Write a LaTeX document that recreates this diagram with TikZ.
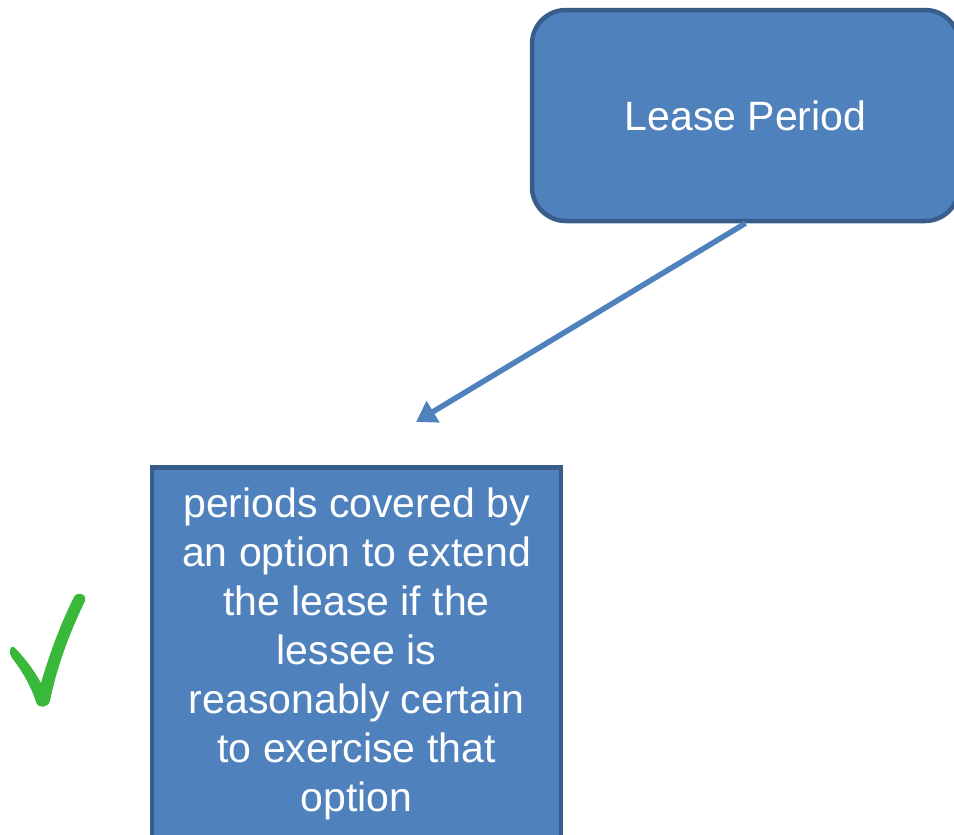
\documentclass[tikz,border=0pt]{standalone}
\usepackage{fontspec}
\setmainfont{Liberation Sans}
\usetikzlibrary{arrows.meta}
\definecolor{boxfill}{HTML}{4F81BD}
\definecolor{boxedge}{HTML}{385D8A}
\definecolor{tickgreen}{RGB}{58,184,58}
\begin{document}
\begin{tikzpicture}[x=1pt,y=-1pt,
  roundbox/.style={draw=boxedge, fill=boxfill, line width=4.5pt, rounded corners=34pt,
    minimum width=427pt, minimum height=211pt, inner sep=0pt,
    text=white, font=\fontsize{41}{49}\selectfont},
  squarebox/.style={draw=boxedge, fill=boxfill, line width=4.5pt,
    minimum width=409pt, minimum height=420pt, inner sep=0pt},
  boxtext/.style={text=white, align=center, inner sep=0pt,
    font=\fontsize{41}{49}\selectfont},
  link/.style={draw=boxfill, line width=5.5pt,
    -{Triangle[length=20pt,width=24pt]}}]
\useasboundingbox (0,0) rectangle (954,835);
\clip (0,0) rectangle (954,835);

% top box
\node[roundbox] (lease) at (745.5,115.5) {Lease Period};

% lower box and its text
\node[squarebox, anchor=north] (option) at (356.5,465) {};
\node[boxtext, anchor=north] (optiontext) at (356.5,488)
  {periods covered by\\an option to extend\\the lease if the\\lessee is\\reasonably certain\\to exercise that\\option};

% connector
\coordinate (tip) at (416,422);
\draw[link] (lease.south) -- (tip);

% green tick
\fill[tickgreen]
  (14,647) .. controls (24,657) and (34,670) .. (41,683)
  .. controls (50,652) and (61,623) .. (74,597)
  .. controls (77,591) and (87,593) .. (85,601)
  .. controls (70,632) and (57,666) .. (50,701)
  .. controls (48,708) and (38,709) .. (36,702)
  .. controls (31,686) and (22,671) .. (12,658)
  .. controls (8,653) and (10,645) .. (14,647) -- cycle;
\end{tikzpicture}
\end{document}
